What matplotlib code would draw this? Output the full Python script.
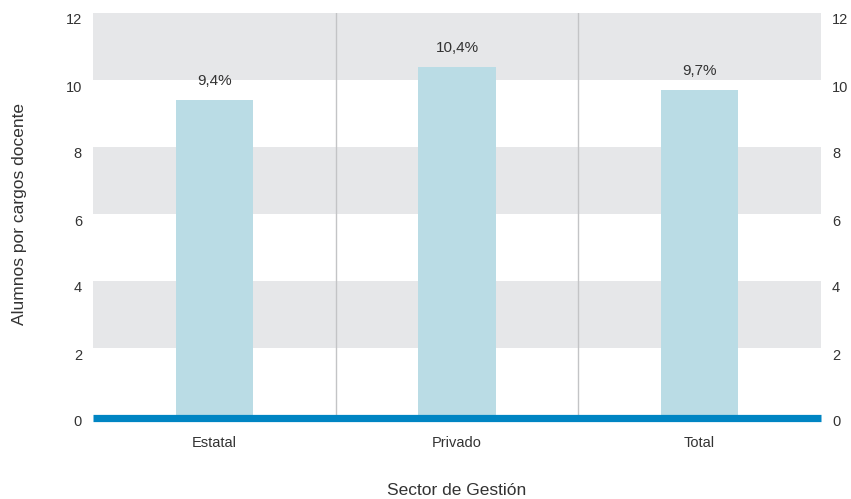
import numpy as np
import matplotlib.pyplot as plt
import matplotlib.transforms as mtransforms

plt.rcParams['font.family'] = ['Liberation Sans', 'DejaVu Sans']

categorias = ['Estatal', 'Privado', 'Total']
valores = [9.4, 10.4, 9.7]
etiquetas = ['9,4%', '10,4%', '9,7%']
yticks = [0, 2, 4, 6, 8, 10, 12]

fig = plt.figure(figsize=(8.51, 4.99), dpi=100)
ax = fig.add_axes([93/851, 84/499, 728/851, 402/499])

x = np.arange(len(categorias))
ax.set_xlim(-0.5, len(categorias) - 0.5)
ax.set_ylim(0, 12)

# franjas grises
for y0 in [2, 6, 10]:
    ax.axhspan(y0, y0 + 2, color='#e6e7e9', lw=0, zorder=0)
for xs in [0.5, 1.5]:
    ax.axvline(xs, color='#c3c4c6', lw=1, zorder=1)

ax.bar(x, valores, width=0.32, color='#badce5', zorder=2)
for xi, v, t in zip(x, valores, etiquetas):
    ax.text(xi, v + 0.35, t, ha='center', va='bottom', fontsize=11, color='#333333')

# linea base azul, un poco por debajo del cero
base = ax.axhline(0, color='#0085c3', lw=5.2, zorder=3, solid_capstyle='butt', clip_on=False)
base.set_transform(base.get_transform() +
                   mtransforms.ScaledTranslation(0, -3.3/100, fig.dpi_scale_trans))

for s in ax.spines.values():
    s.set_visible(False)
ax.tick_params(length=0, labelsize=10.5, colors='#333333')
ax.set_xticks(x)
ax.set_xticklabels(categorias)
ax.set_yticks(yticks)
ax.tick_params(axis='y', right=True, labelright=True, pad=8)
ax.tick_params(axis='x', pad=15)
off = mtransforms.ScaledTranslation(0, -6/100, fig.dpi_scale_trans)
for t in ax.yaxis.get_major_ticks():
    t.label1.set_transform(t.label1.get_transform() + off)
    t.label2.set_transform(t.label2.get_transform() + off)

ax.set_ylabel('Alumnos por cargos docente', fontsize=12.5, color='#333333', labelpad=28)
ax.set_xlabel('Sector de Gestión', fontsize=12.5, color='#333333', labelpad=24)

fig.savefig('out.png', dpi=100)
